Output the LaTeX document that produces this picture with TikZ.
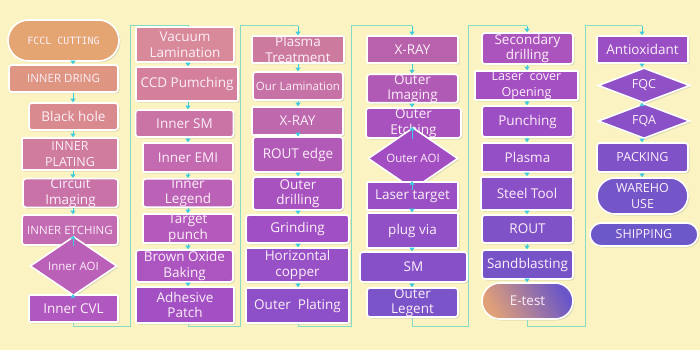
\documentclass[tikz,border=0pt]{standalone}
\usepackage{fontspec}
\setmainfont{Open Sans}
\newfontfamily\monof{DejaVu Sans Mono}
\usetikzlibrary{shapes.geometric,shapes.misc,shadows,arrows.meta}
\definecolor{bg}{HTML}{FBF4C2}
\definecolor{txt}{HTML}{FCEFF8}
\definecolor{arrc}{HTML}{3ECBE0}
\definecolor{loopc}{HTML}{86DBC4}
\definecolor{c11}{HTML}{E5A573}
\definecolor{c12}{HTML}{DE9582}
\definecolor{c13}{HTML}{D88A8E}
\definecolor{c14}{HTML}{D07C9C}
\definecolor{c15}{HTML}{C872A8}
\definecolor{c16}{HTML}{C26AB2}
\definecolor{c17}{HTML}{BA60B8}
\definecolor{c18}{HTML}{B058BF}
\definecolor{c21}{HTML}{D8899A}
\definecolor{c22}{HTML}{D4809C}
\definecolor{c23}{HTML}{CA74A6}
\definecolor{c24}{HTML}{C46AB0}
\definecolor{c25}{HTML}{BC62B6}
\definecolor{c26}{HTML}{B45ABC}
\definecolor{c27}{HTML}{AC54C0}
\definecolor{c28}{HTML}{A250C4}
\definecolor{c31}{HTML}{CC7A9E}
\definecolor{c32}{HTML}{C672A6}
\definecolor{c33}{HTML}{BE68AE}
\definecolor{c34}{HTML}{B25AB8}
\definecolor{c35}{HTML}{A852C0}
\definecolor{c36}{HTML}{A050C4}
\definecolor{c37}{HTML}{9850C6}
\definecolor{c38}{HTML}{8E50C8}
\definecolor{c41}{HTML}{B862AC}
\definecolor{c42}{HTML}{B05AB6}
\definecolor{c43}{HTML}{A852BE}
\definecolor{c44}{HTML}{A24EC2}
\definecolor{c45}{HTML}{9A50C4}
\definecolor{c46}{HTML}{9250C6}
\definecolor{c47}{HTML}{8650C8}
\definecolor{c48}{HTML}{7A54C8}
\definecolor{c51}{HTML}{AC54BE}
\definecolor{c52}{HTML}{A450C2}
\definecolor{c53}{HTML}{9C4EC4}
\definecolor{c54}{HTML}{944EC6}
\definecolor{c55}{HTML}{8A50C8}
\definecolor{c56}{HTML}{8052C8}
\definecolor{c57}{HTML}{7654C8}
\definecolor{c61}{HTML}{9A4EC4}
\definecolor{c62}{HTML}{9050C6}
\definecolor{c63}{HTML}{8A50C8}
\definecolor{c64}{HTML}{8052C8}
\definecolor{c65}{HTML}{7456C8}
\definecolor{c66}{HTML}{6C58C8}
\definecolor{eA}{HTML}{E0A078}
\definecolor{eB}{HTML}{B452C0}
\definecolor{eC}{HTML}{6A56C8}
\tikzset{
  box/.style={draw=white, line width=1.6pt, rounded corners=3pt, text=txt,
    align=center, inner sep=0pt, font=\fontsize{13.5}{15.5}\selectfont,
    drop shadow={opacity=0.22, shadow xshift=1.5pt, shadow yshift=-1.5pt}},
  sq/.style={box, rounded corners=1pt},
  dia/.style={box, diamond, rounded corners=0pt},
  pill/.style={box, rounded rectangle, rounded corners=0pt},
  wh/.style 2 args={minimum width=#1pt, minimum height=#2pt},
  small/.style={font=\fontsize{11.5}{13}\selectfont},
  mid/.style={font=\fontsize{12.5}{15.5}\selectfont},
  arr/.style={draw=arrc, line width=1pt, -{Triangle[width=5pt,length=3.5pt]}},
  loopl/.style={draw=loopc, line width=1pt}
}
\begin{document}
\begin{tikzpicture}[x=1pt,y=-1pt]
\useasboundingbox (0,0) rectangle (700,350);
\fill[bg] (0,0) rectangle (700,350);
% guide coordinates
\coordinate (a1) at (73,0);
\coordinate (a2) at (188,0);
\coordinate (a3) at (298,0);
\coordinate (a4) at (412,0);
\coordinate (a5) at (527,0);
\coordinate (a6) at (642,0);
\coordinate (b1) at (130,326); \coordinate (t1) at (130,26);
\coordinate (b2) at (240,326); \coordinate (t2) at (240,26);
\coordinate (b3) at (351,326); \coordinate (t3) at (351,26);
\coordinate (b4) at (468,326); \coordinate (t4) at (468,26);
\coordinate (b5) at (585,326); \coordinate (t5) at (585,26);
% column 1
\node[pill, fill=c11, wh={111}{41}, font=\monof\fontsize{10}{12}\selectfont] (n11) at (63.5,40.5) {FCCL CUTTING};
\node[box, fill=c12, wh={109}{27}, small] (n12) at (63.5,78.5) {INNER DRING};
\node[box, fill=c13, wh={89}{27}] (n13) at (73.5,116.5) {Black hole};
\node[sq, fill=c14, wh={96}{32}, mid] (n14) at (70,154) {INNER\\PLATING};
\node[box, fill=c15, wh={95}{28}] (n15) at (70.5,193) {Circuit\\Imaging};
\node[box, fill=c16, wh={96}{30}, small] (n16) at (70,230) {INNER ETCHING};
\node[dia, fill=c17, wh={87}{40}, small] (n17) at (73.5,266) {Inner AOI};
\node[sq, fill=c18, wh={89}{27}] (n18) at (73.5,308.5) {Inner CVL};
% column 2
\node[sq, fill=c21, wh={98}{35}] (n21) at (185,44.5) {Vacuum\\Lamination};
\node[sq, fill=c22, wh={102}{34}] (n22) at (187,84) {CCD Pumching};
\node[box, fill=c23, wh={98}{27}] (n23) at (184.5,123.5) {Inner SM};
\node[sq, fill=c24, wh={90}{29}] (n24) at (188,157.5) {Inner EMI};
\node[box, fill=c25, wh={90}{28}] (n25) at (188,193) {Inner\\Legend};
\node[sq, fill=c26, wh={90}{29}] (n26) at (188,228.5) {Target\\punch};
\node[box, fill=c27, wh={97}{32}] (n27) at (184.5,266) {Brown Oxide\\Baking};
\node[sq, fill=c28, wh={98}{36}] (n28) at (185,305) {Adhesive\\Patch};
% column 3
\node[sq, fill=c31, wh={92}{27}] (n31) at (298,49.5) {Plasma\\Treatment};
\node[box, fill=c32, wh={90}{28}, small] (n32) at (298,86) {Our Lamination};
\node[sq, fill=c33, wh={91}{28}] (n33) at (297.5,121) {X-RAY};
\node[box, fill=c34, wh={90}{35}] (n34) at (298,154.5) {ROUT edge};
\node[box, fill=c35, wh={90}{33}] (n35) at (298,193.5) {Outer\\drilling};
\node[box, fill=c36, wh={103}{28}] (n36) at (297.5,229) {Grinding};
\node[sq, fill=c37, wh={103}{34}] (n37) at (297.5,265) {Horizontal\\copper};
\node[sq, fill=c38, wh={103}{35}] (n38) at (297.5,305.5) {Outer\ \ Plating};
% column 4
\node[sq, fill=c41, wh={91}{27}] (n41) at (412.5,49.5) {X-RAY};
\node[box, fill=c42, wh={91}{27}] (n42) at (412.5,88.5) {Outer\\Imaging};
\node[box, fill=c43, wh={95}{30}] (n43) at (413.5,123) {Outer\\Etching};
\node[dia, fill=c44, wh={90}{41}, small] (n44) at (413,158.5) {Outer AOI};
\node[sq, fill=c45, wh={91}{28}] (n45) at (412.5,196) {Laser target};
\node[sq, fill=c46, wh={91}{35}] (n46) at (412.5,230.5) {plug via};
\node[box, fill=c47, wh={107}{30}] (n47) at (413.5,267) {SM};
\node[box, fill=c48, wh={91}{29}] (n48) at (412.5,302.5) {Outer\\Legent};
% column 5
\node[box, fill=c51, wh={91}{31}] (n51) at (527.5,48.5) {Secondary\\drilling};
\node[sq, fill=c52, wh={103}{29}, mid] (n52) at (526.5,85.5) {Laser\ \ cover\\Opening};
\node[box, fill=c53, wh={91}{31}] (n53) at (527.5,121.5) {Punching};
\node[sq, fill=c54, wh={91}{29}] (n54) at (527.5,157.5) {Plasma};
\node[sq, fill=c55, wh={92}{33}] (n55) at (527,193.5) {Steel Tool};
\node[box, fill=c56, wh={91}{28}] (n56) at (527.5,229) {ROUT};
\node[box, fill=c57, wh={91}{29}] (n57) at (527.5,264.5) {Sandblasting};
\node[pill, left color=eA, middle color=eB, right color=eC, shading angle=120, wh={91}{36}] (n58) at (527.5,301) {E-test};
% column 6
\node[sq, fill=c61, wh={91}{27}] (n61) at (642.5,49.5) {Antioxidant};
\node[dia, fill=c62, wh={92}{29}, mid] (n62) at (644,85.5) {FQC};
\node[dia, fill=c63, wh={92}{28}, mid] (n63) at (644,121) {FQA};
\node[box, fill=c64, wh={91}{29}, mid] (n64) at (642.5,157.5) {PACKING};
\node[pill, fill=c65, wh={91}{36}, mid] (n65) at (642.5,196) {WAREHO\\USE};
\node[pill, fill=c66, wh={108}{23}, mid] (n66) at (644,234.5) {SHIPPING};
% arrows within columns
\foreach \c/\k in {1/a1,2/a2,3/a3,4/a4,5/a5}{
  \foreach \i [evaluate=\i as \j using int(\i+1)] in {1,...,7}{
    \draw[arr] (n\c\i.south -| \k) -- (n\c\j.north -| \k);
  }
}
\foreach \i [evaluate=\i as \j using int(\i+1)] in {1,...,4}{
  \draw[arr] (n6\i.south -| a6) -- (n6\j.north -| a6);
}
% loops between columns
\draw[loopl] (n18.south -| a1) |- (b1) -- (t1) -| (n21.north -| a2);
\draw[loopl] (n28.south -| a2) |- (b2) -- (t2) -- (t2 -| a3);
\draw[arr] (t2 -| a3) -- (n31.north -| a3);
\draw[loopl] (n38.south -| a3) |- (b3) -- (t3) -- (t3 -| a4);
\draw[arr] (t3 -| a4) -- (n41.north -| a4);
\draw[loopl] (n48.south -| a4) |- (b4) -- (t4) -- (t4 -| a5);
\draw[arr] (t4 -| a5) -- (n51.north -| a5);
\draw[loopl] (n58.south -| a5) |- (b5) -- (t5) -- (t5 -| a6);
\draw[arr] (t5 -| a6) -- (n61.north -| a6);
\end{tikzpicture}
\end{document}
